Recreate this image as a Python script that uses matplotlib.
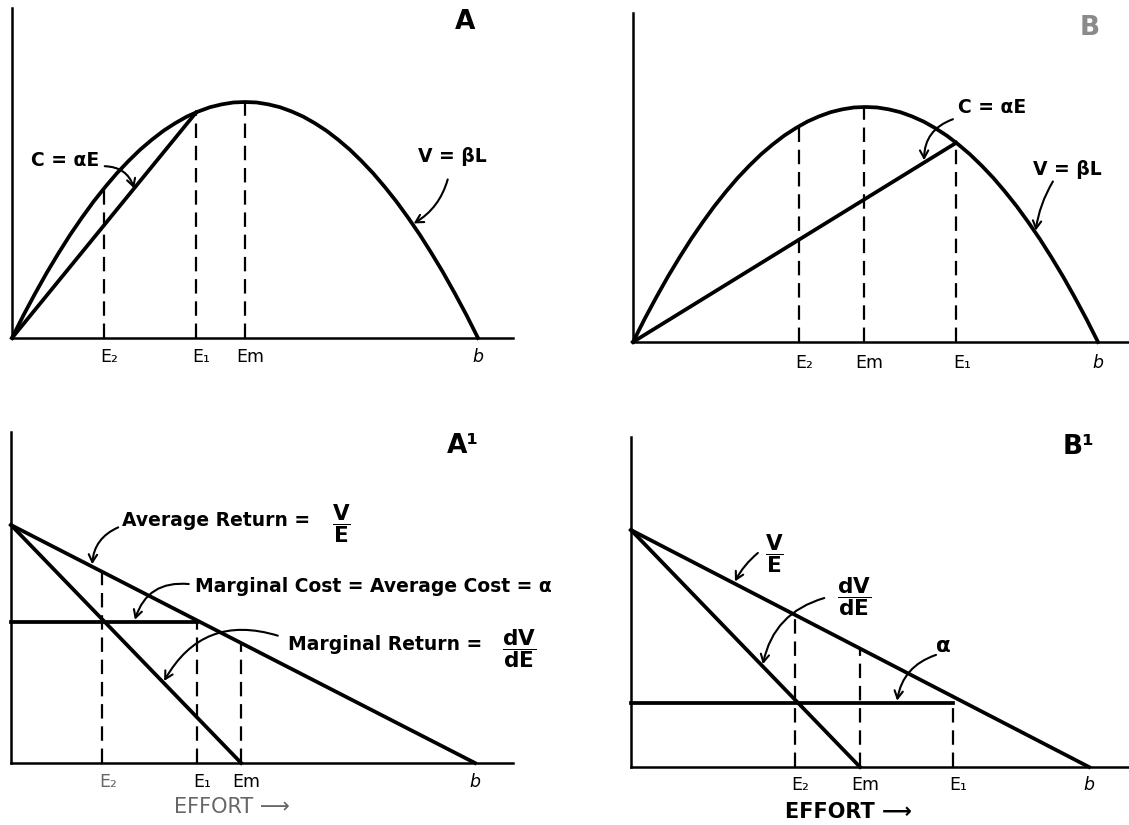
import numpy as np
import matplotlib
matplotlib.use('Agg')
import matplotlib.pyplot as plt

plt.rcParams['font.family'] = ['DejaVu Sans']
plt.rcParams['mathtext.fontset'] = 'custom'
plt.rcParams['mathtext.rm'] = 'DejaVu Sans:bold'
plt.rcParams['mathtext.it'] = 'DejaVu Sans:bold'
plt.rcParams['mathtext.bf'] = 'DejaVu Sans:bold'
plt.rcParams['mathtext.default'] = 'rm'

# ---------------- data (normalised: b = 1, peak V = 1) ----
effort = [0.000, 0.025, 0.050, 0.075, 0.100, 0.125, 0.150, 0.175, 0.200, 0.225,
          0.250, 0.275, 0.300, 0.325, 0.350, 0.375, 0.400, 0.425, 0.450, 0.475,
          0.500, 0.525, 0.550, 0.575, 0.600, 0.625, 0.650, 0.675, 0.700, 0.725,
          0.750, 0.775, 0.800, 0.825, 0.850, 0.875, 0.900, 0.925, 0.950, 0.975,
          1.000]
value_A = [0.000, 0.098, 0.190, 0.278, 0.360, 0.438, 0.510, 0.578, 0.640, 0.698,
           0.750, 0.798, 0.840, 0.878, 0.910, 0.938, 0.960, 0.978, 0.990, 0.998,
           1.000, 0.998, 0.990, 0.978, 0.960, 0.938, 0.910, 0.878, 0.840, 0.798,
           0.750, 0.698, 0.640, 0.578, 0.510, 0.438, 0.360, 0.278, 0.190, 0.098,
           0.000]
value_B = [0.000, 0.098, 0.190, 0.278, 0.360, 0.438, 0.510, 0.578, 0.640, 0.698,
           0.750, 0.798, 0.840, 0.878, 0.910, 0.938, 0.960, 0.978, 0.990, 0.998,
           1.000, 0.998, 0.990, 0.978, 0.960, 0.938, 0.910, 0.878, 0.840, 0.798,
           0.750, 0.698, 0.640, 0.578, 0.510, 0.438, 0.360, 0.278, 0.190, 0.098,
           0.000]

labels_A = ['E₂', 'E₁', 'Em']
marks_A = [0.197, 0.395, 0.500]
labels_B = ['E₂', 'Em', 'E₁']
marks_B = [0.357, 0.497, 0.695]

labels_A1 = ['E₂', 'E₁', 'Em']
marks_A1 = [0.197, 0.400, 0.496]
labels_B1 = ['E₂', 'Em', 'E₁']
marks_B1 = [0.358, 0.500, 0.703]

alpha_A1 = 0.592
alpha_B1 = 0.27
b_end = 1.0
return_at_zero = 1.0

# ---------------- styling ----------------
W, H = 1129, 825
LW = 2.7
AX_LW = 1.8
DASH = dict(lw=1.6, ls=(0, (6.5, 3.5)), color='black', clip_on=False)
ARROW = dict(arrowstyle='->,head_length=0.55,head_width=0.3', lw=1.5, color='black',
             shrinkA=0, shrinkB=0)
TXT = 13.5
BOLD = 'bold'
ELAB = 12.5
FRAC = 15.5

fig = plt.figure(figsize=(W / 100, H / 100), dpi=100)


def make_ax(left, bottom_from_top, width, height, unit_x, unit_y):
    ax = fig.add_axes([left / W, (H - bottom_from_top) / H, width / W, height / H])
    ax.set_xlim(0, width / unit_x)
    ax.set_ylim(0, height / unit_y)
    for s in ['top', 'right']:
        ax.spines[s].set_visible(False)
    for s in ['left', 'bottom']:
        ax.spines[s].set_linewidth(AX_LW)
    ax.set_xticks([])
    ax.set_yticks([])
    ax.patch.set_alpha(0)
    return ax


def arrow(ax, start, end, rad):
    ax.annotate('', xy=end, xytext=start,
                arrowprops=dict(ARROW, connectionstyle=f'arc3,rad={rad}'),
                annotation_clip=False)


def elabel(ax, x, y, s, **kw):
    ax.text(x, y, s, ha='center', va='center', fontsize=ELAB, **kw)


# ---------------- panel A ----------------
axA = make_ax(12, 338, 501, 330, 466, 236)
axA.plot(effort, value_A, color='black', lw=LW, clip_on=False, solid_joinstyle='round')
e1 = marks_A[1]
v1 = np.interp(e1, effort, value_A)
axA.plot([0, e1], [0, v1], color='black', lw=LW, clip_on=False)
for lab, e in zip(labels_A, marks_A):
    axA.plot([e, e], [0, np.interp(e, effort, value_A)], **DASH)
    elabel(axA, e + 0.012, -0.08, lab)
elabel(axA, b_end, -0.08, 'b', style='italic')
axA.text(0.972, 1.34, 'A', ha='center', va='center', fontsize=19, fontweight=BOLD)
axA.text(0.114, 0.754, 'C = αE', ha='center', va='center', fontsize=TXT, fontweight=BOLD)
ea = 0.262
arrow(axA, (0.199, 0.728), (ea, v1 / e1 * ea), -0.35)
axA.text(0.944, 0.767, 'V = βL', ha='center', va='center', fontsize=TXT, fontweight=BOLD)
ev = 0.862
arrow(axA, (0.935, 0.672), (ev, np.interp(ev, effort, value_A) + 0.01), -0.2)

# ---------------- panel B ----------------
axB = make_ax(633, 342, 496, 329, 465, 235)
axB.plot(effort, value_B, color='black', lw=LW, clip_on=False, solid_joinstyle='round')
e1 = marks_B[2]
v1 = np.interp(e1, effort, value_B)
axB.plot([0, e1], [0, v1], color='black', lw=LW, clip_on=False)
for lab, e in zip(labels_B, marks_B):
    axB.plot([e, e], [0, np.interp(e, effort, value_B)], **DASH)
    elabel(axB, e + 0.012, -0.09, lab)
elabel(axB, b_end, -0.09, 'b', style='italic')
axB.text(0.983, 1.336, 'B', ha='center', va='center', fontsize=19, fontweight=BOLD,
         color='#8a8a8a')
axB.text(0.772, 0.996, 'C = αE', ha='center', va='center', fontsize=TXT, fontweight=BOLD)
ec = 0.626
arrow(axB, (0.688, 0.948), (ec, v1 / e1 * ec + 0.01), 0.35)
axB.text(0.935, 0.736, 'V = βL', ha='center', va='center', fontsize=TXT, fontweight=BOLD)
ev = 0.866
arrow(axB, (0.903, 0.683), (ev, np.interp(ev, effort, value_B) + 0.01), 0.1)


# ---------------- lower panels ----------------
def lower(ax, marks, alpha, e1_idx, em_idx):
    em = marks[em_idx]
    e1 = marks[e1_idx]
    ax.plot([0, b_end], [return_at_zero, 0], color='black', lw=LW, clip_on=False)
    ax.plot([0, em], [return_at_zero, 0], color='black', lw=LW, clip_on=False)
    ax.plot([0, e1], [alpha, alpha], color='black', lw=LW, clip_on=False)
    for i, e in enumerate(marks):
        top = alpha if i == e1_idx else return_at_zero * (1 - e / b_end)
        ax.plot([e, e], [0, top], **DASH)


axA1 = make_ax(11, 763, 502, 331, 464, 238)
lower(axA1, marks_A1, alpha_A1, 1, 2)
for i, (lab, e) in enumerate(zip(labels_A1, marks_A1)):
    elabel(axA1, e + 0.012, -0.08, lab, color='#666666' if i == 0 else 'black')
elabel(axA1, b_end, -0.08, 'b', style='italic')
axA1.text(0.476, -0.185, 'EFFORT ⟶', ha='center', va='center', fontsize=15,
          color='#666666')
axA1.text(0.974, 1.33, 'A¹', ha='center', va='center', fontsize=19, fontweight=BOLD)
axA1.text(0.239, 1.02, 'Average Return =', ha='left', va='center', fontsize=TXT,
          fontweight=BOLD)
axA1.text(0.712, 1.005, r'$\dfrac{V}{E}$', ha='center', va='center', fontsize=FRAC)
ea = 0.175
arrow(axA1, (0.231, 0.99), (ea, 1 - ea + 0.01), 0.3)
axA1.text(0.397, 0.742, 'Marginal Cost = Average Cost = α', ha='left', va='center',
          fontsize=TXT, fontweight=BOLD)
arrow(axA1, (0.383, 0.752), (0.267, alpha_A1 + 0.01), 0.4)
axA1.text(0.597, 0.50, 'Marginal Return =', ha='left', va='center', fontsize=TXT,
          fontweight=BOLD)
axA1.text(1.095, 0.48, r'$\dfrac{dV}{dE}$', ha='center', va='center', fontsize=FRAC)
em = marks_A1[2]
ea = 0.33
arrow(axA1, (0.575, 0.535), (ea, 1 - ea / em + 0.01), 0.4)

axB1 = make_ax(631, 767, 498, 330, 458, 237)
lower(axB1, marks_B1, alpha_B1, 2, 1)
for lab, e in zip(labels_B1, marks_B1):
    elabel(axB1, e + 0.012, -0.076, lab)
elabel(axB1, b_end, -0.076, 'b', style='italic')
axB1.text(0.474, -0.19, 'EFFORT ⟶', ha='center', va='center', fontsize=15,
          fontweight=BOLD)
axB1.text(0.978, 1.35, 'B¹', ha='center', va='center', fontsize=19, fontweight=BOLD)
axB1.text(0.314, 0.90, r'$\dfrac{V}{E}$', ha='center', va='center', fontsize=FRAC)
ea = 0.227
arrow(axB1, (0.277, 0.903), (ea, 1 - ea + 0.01), 0.1)
axB1.text(0.488, 0.72, r'$\dfrac{dV}{dE}$', ha='center', va='center', fontsize=FRAC)
em = marks_B1[1]
ea = 0.288
arrow(axB1, (0.422, 0.713), (ea, 1 - ea / em + 0.01), 0.3)
axB1.text(0.683, 0.51, 'α', ha='center', va='center', fontsize=TXT + 2, fontweight=BOLD)
arrow(axB1, (0.666, 0.473), (0.581, alpha_B1 + 0.01), 0.3)

fig.savefig('out.png', dpi=100)
